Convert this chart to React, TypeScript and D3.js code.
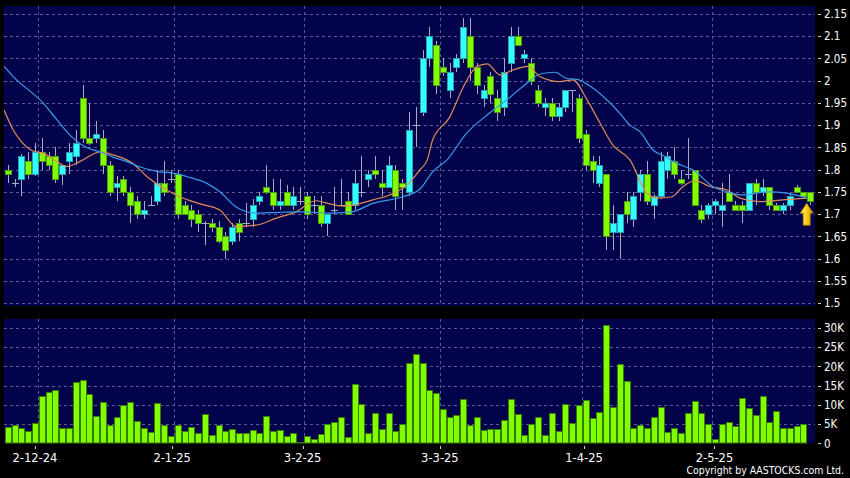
import React from 'react';
import * as d3 from 'd3';

const W = 850;
const H = 478;

// ---------- data ----------
const opens = [
  1.80, 1.77, 1.78, 1.82, 1.79, 1.84, 1.83, 1.83, 1.79, 1.82,
  1.83, 1.96, 1.87, 1.87, 1.87, 1.81, 1.76, 1.78, 1.75, 1.73,
  1.70, 1.72, 1.73, 1.77, 1.78, 1.79, 1.72, 1.71, 1.70, 1.68,
  1.68, 1.67, 1.65, 1.64, 1.68, 1.68, 1.69, 1.73, 1.76, 1.75,
  1.72, 1.75, 1.72, 1.73, 1.74, 1.72, 1.72, 1.68, 1.71, 1.72,
  1.73, 1.72, 1.75, 1.78, 1.80, 1.77, 1.76, 1.80, 1.77, 1.75,
  1.90, 1.93, 2.05, 2.08, 2.03, 1.98, 2.03, 2.05, 2.10, 2.03,
  1.96, 2.01, 1.96, 1.94, 2.04, 2.10, 2.05, 2.04, 1.98, 1.94,
  1.95, 1.92, 1.94, 1.98, 1.96, 1.88, 1.82, 1.77, 1.79, 1.66,
  1.66, 1.73, 1.69, 1.75, 1.79, 1.72, 1.74, 1.80, 1.82, 1.78,
  1.79, 1.80, 1.71, 1.70, 1.72, 1.71, 1.75, 1.72, 1.72, 1.71,
  1.77, 1.75, 1.76, 1.72, 1.71, 1.72, 1.76, 1.75, 1.75,
];
const closes = [
  1.79, 1.77, 1.83, 1.79, 1.84, 1.82, 1.81, 1.78, 1.81, 1.84,
  1.86, 1.87, 1.86, 1.88, 1.81, 1.75, 1.77, 1.75, 1.72, 1.70,
  1.71, 1.72, 1.77, 1.75, 1.78, 1.70, 1.70, 1.69, 1.68, 1.68,
  1.67, 1.64, 1.62, 1.67, 1.66, 1.68, 1.72, 1.74, 1.75, 1.72,
  1.73, 1.72, 1.74, 1.73, 1.70, 1.72, 1.68, 1.70, 1.71, 1.72,
  1.70, 1.77, 1.75, 1.79, 1.79, 1.76, 1.81, 1.74, 1.76, 1.89,
  1.90, 2.05, 2.10, 1.99, 2.02, 2.02, 2.05, 2.12, 2.03, 1.99,
  1.98, 1.97, 1.93, 2.02, 2.10, 2.08, 2.06, 2.00, 1.95, 1.95,
  1.92, 1.94, 1.98, 1.98, 1.87, 1.81, 1.80, 1.81, 1.65, 1.68,
  1.70, 1.70, 1.74, 1.79, 1.73, 1.74, 1.82, 1.83, 1.79, 1.77,
  1.79, 1.72, 1.69, 1.72, 1.73, 1.72, 1.73, 1.71, 1.71, 1.77,
  1.75, 1.76, 1.72, 1.71, 1.72, 1.74, 1.75, 1.74, 1.73,
];
const highs = [
  1.81, 1.78, 1.835, 1.84, 1.86, 1.87, 1.84, 1.85, 1.81, 1.86,
  1.89, 1.99, 1.95, 1.91, 1.89, 1.82, 1.785, 1.785, 1.76, 1.74,
  1.73, 1.74, 1.80, 1.82, 1.80, 1.80, 1.73, 1.72, 1.71, 1.685,
  1.69, 1.685, 1.66, 1.68, 1.69, 1.725, 1.735, 1.75, 1.81, 1.78,
  1.78, 1.765, 1.76, 1.76, 1.75, 1.74, 1.74, 1.70, 1.76, 1.78,
  1.75, 1.80, 1.83, 1.80, 1.83, 1.80, 1.83, 1.81, 1.78, 1.93,
  1.94, 2.07, 2.12, 2.09, 2.05, 2.04, 2.06, 2.14, 2.14, 2.04,
  1.99, 2.02, 1.98, 2.05, 2.12, 2.12, 2.07, 2.05, 1.99, 1.96,
  1.96, 1.95, 1.98, 1.98, 1.97, 1.89, 1.83, 1.83, 1.79, 1.72,
  1.70, 1.75, 1.75, 1.80, 1.82, 1.745, 1.84, 1.84, 1.85, 1.80,
  1.87, 1.80, 1.72, 1.725, 1.735, 1.77, 1.79, 1.73, 1.73, 1.77,
  1.78, 1.78, 1.76, 1.725, 1.725, 1.745, 1.765, 1.75, 1.75,
];
const lows = [
  1.77, 1.76, 1.74, 1.78, 1.785, 1.80, 1.80, 1.77, 1.765, 1.79,
  1.81, 1.86, 1.855, 1.86, 1.79, 1.74, 1.73, 1.74, 1.68, 1.69,
  1.69, 1.72, 1.72, 1.74, 1.77, 1.69, 1.70, 1.67, 1.66, 1.63,
  1.66, 1.635, 1.60, 1.63, 1.64, 1.67, 1.67, 1.72, 1.745, 1.71,
  1.71, 1.72, 1.71, 1.72, 1.69, 1.70, 1.67, 1.65, 1.70, 1.72,
  1.70, 1.71, 1.739, 1.76, 1.78, 1.74, 1.76, 1.71, 1.71, 1.74,
  1.85, 1.92, 2.03, 1.97, 2.01, 1.96, 2.02, 2.04, 2.00, 1.97,
  1.94, 1.95, 1.91, 1.92, 2.02, 2.08, 2.04, 1.99, 1.94, 1.92,
  1.91, 1.91, 1.93, 1.93, 1.86, 1.80, 1.77, 1.76, 1.62, 1.62,
  1.60, 1.68, 1.67, 1.73, 1.72, 1.69, 1.735, 1.78, 1.78, 1.765,
  1.78, 1.72, 1.68, 1.69, 1.70, 1.67, 1.73, 1.71, 1.68, 1.71,
  1.72, 1.74, 1.71, 1.71, 1.70, 1.71, 1.75, 1.74, 1.72,
];
// volume in thousands of shares (latest session has no bar)
const volumes = [
  4.2, 4.8, 4.1, 3.3, 5.2, 12.4, 13.3, 13.9, 4.1, 3.9,
  16.0, 16.6, 12.7, 7.1, 10.7, 4.8, 6.8, 10.0, 10.7, 5.8,
  4.1, 2.9, 10.5, 4.8, 2.0, 4.8, 3.2, 4.2, 2.6, 7.6,
  2.1, 4.8, 3.1, 3.7, 2.6, 2.6, 3.5, 2.6, 7.1, 3.1,
  3.5, 1.9, 2.6, 0.3, 1.9, 1.2, 2.4, 4.9, 5.5, 6.9,
  1.6, 15.4, 10.3, 2.8, 7.9, 3.8, 8.0, 3.3, 4.9, 20.8,
  23.2, 20.8, 13.8, 13.1, 9.0, 6.8, 7.3, 11.4, 4.7, 6.8,
  3.5, 3.7, 3.7, 6.1, 11.4, 7.6, 2.2, 4.9, 6.8, 2.2,
  7.9, 3.2, 10.1, 5.2, 9.9, 11.2, 6.7, 8.1, 30.7, 9.5,
  20.6, 16.3, 4.1, 4.8, 3.9, 6.8, 9.4, 2.9, 3.9, 2.7,
  8.0, 10.9, 7.9, 4.9, 1.0, 5.1, 5.5, 4.5, 11.8, 9.1,
  7.3, 12.4, 5.5, 8.3, 4.1, 4.1, 4.5, 5.0,
];

// short moving average (orange), read at sample positions
const maShortIdx = [-0.54, 0.82, 1.8, 3.7, 5.2, 7.25, 8.7, 10.6, 13.6, 15.5, 18.4, 20.5, 23.4, 25.3, 28.3, 31.2, 33.6, 36.5, 39.5, 42.4, 45.3, 46.8, 49.3, 50.8, 53.7, 56.2, 58.7, 60.6, 61.7, 62.5, 65.0, 67.0, 69.0, 70.5, 72.4, 74.3, 76.5, 78.3, 81.2, 83.1, 85.2, 87.1, 89.0, 91.5, 94.0, 95.6, 97.7, 99.3, 101.1, 103.3, 105.8, 107.7, 110.6, 114.0, 117.5];
const maShortVal = [1.934, 1.889, 1.867, 1.842, 1.837, 1.818, 1.807, 1.818, 1.840, 1.833, 1.814, 1.784, 1.754, 1.739, 1.723, 1.709, 1.672, 1.675, 1.691, 1.705, 1.730, 1.725, 1.718, 1.720, 1.732, 1.743, 1.765, 1.799, 1.822, 1.867, 1.918, 1.986, 2.032, 2.038, 2.013, 2.024, 2.032, 2.009, 1.998, 2.002, 1.957, 1.905, 1.855, 1.822, 1.747, 1.736, 1.739, 1.762, 1.775, 1.762, 1.754, 1.736, 1.728, 1.732, 1.736];
// long moving average (blue)
const maLongIdx = [-0.54, 0.82, 5.19, 7.25, 9.46, 11.66, 13.57, 15.49, 17.54, 19.46, 22.4, 24.3, 26.4, 29.3, 31.2, 33.6, 34.6, 36.5, 40.0, 43.4, 47.3, 50.6, 53.7, 58.1, 60.6, 62.5, 64.6, 67.5, 70.5, 73.4, 76.4, 78.3, 80.5, 82.2, 83.7, 86.1, 88.1, 90.0, 91.5, 93.0, 94.9, 96.7, 98.4, 100.8, 103.7, 105.8, 108.1, 111.7, 114.6, 117.5];
const maLongVal = [2.032, 2.009, 1.950, 1.912, 1.873, 1.849, 1.840, 1.828, 1.818, 1.806, 1.795, 1.792, 1.784, 1.769, 1.750, 1.716, 1.708, 1.702, 1.704, 1.705, 1.702, 1.705, 1.724, 1.739, 1.756, 1.795, 1.822, 1.882, 1.923, 1.957, 1.995, 2.015, 2.019, 2.005, 2.003, 1.983, 1.957, 1.927, 1.900, 1.885, 1.844, 1.829, 1.814, 1.799, 1.762, 1.750, 1.743, 1.750, 1.747, 1.736];

const dateTickIdx = [4, 24, 43, 63, 84, 103];
const dateTickLabels = ['2-12-24', '2-1-25', '3-2-25', '3-3-25', '1-4-25', '2-5-25'];
const priceTicks = [2.15, 2.1, 2.05, 2.0, 1.95, 1.9, 1.85, 1.8, 1.75, 1.7, 1.65, 1.6, 1.55, 1.5];
const priceTickLabels = ['2.15', '2.1', '2.05', '2', '1.95', '1.9', '1.85', '1.8', '1.75', '1.7', '1.65', '1.6', '1.55', '1.5'];
const volTicks = [0, 5, 10, 15, 20, 25, 30];
const volTickLabels = ['0', '5K', '10K', '15K', '20K', '25K', '30K'];

// ---------- styling ----------
const NAVY = '#03034c';
const GRID = '#5a5a96';
const WICK = '#a9a9c4';
const UP_FILL = '#33ffff';
const UP_STROKE = '#2a9fb0';
const DN_FILL = '#80ff00';
const DN_STROKE = '#4f9a08';
const VOL_FILL = '#80ff00';
const VOL_STROKE = '#3a7a00';
const MA_SHORT = '#e08a58';
const MA_LONG = '#3a9ae8';
const AXIS_FONT = "'DejaVu Sans Condensed', 'DejaVu Sans', sans-serif";
const DATE_FONT = "'DejaVu Sans', sans-serif";

export default function App() {
  const n = opens.length;
  const x = d3.scaleLinear().domain([0, 118]).range([7.7, 810.1]);
  const xLab = d3.scaleLinear().domain([0, 118]).range([4, 814]);
  const y = d3.scaleLinear().domain([1.5, 2.15]).range([303, 14]);
  const yv = d3.scaleLinear().domain([0, 30]).range([443.3, 328]);

  const main = { x0: 4, x1: 815, y0: 6, y1: 306 };
  const vol = { x0: 4, x1: 815, y0: 319, y1: 443.5 };

  const lineGen = d3
    .line<[number, number]>()
    .x((d) => x(d[0]))
    .y((d) => y(d[1]))
    .curve(d3.curveMonotoneX);

  const shortPts: [number, number][] = maShortIdx.map((v, i) => [v, maShortVal[i]]);
  const longPts: [number, number][] = maLongIdx.map((v, i) => [v, maLongVal[i]]);

  const candles = d3.range(n).map((i) => {
    const cx = Math.round(x(i));
    const o = opens[i];
    const c = closes[i];
    const yh = Math.round(y(highs[i]));
    const yl = Math.round(y(lows[i]));
    const wick = (
      <line key={'w' + i} x1={cx + 0.5} x2={cx + 0.5} y1={yh} y2={yl} stroke={WICK} strokeWidth={1} />
    );
    if (o === c) {
      const yo = Math.round(y(o)) + 0.5;
      return (
        <g key={i}>
          {wick}
          <line x1={cx - 3} x2={cx + 4} y1={yo} y2={yo} stroke={WICK} strokeWidth={1} />
        </g>
      );
    }
    const up = c > o;
    const top = Math.round(y(Math.max(o, c)));
    const bot = Math.round(y(Math.min(o, c)));
    return (
      <g key={i}>
        {wick}
        <rect
          x={cx - 2.5}
          y={top + 0.5}
          width={6}
          height={Math.max(1, bot - top)}
          fill={up ? UP_FILL : DN_FILL}
          stroke={up ? UP_STROKE : DN_STROKE}
          strokeWidth={1}
        />
      </g>
    );
  });

  const volBars = volumes.map((v, i) => {
    const cx = Math.round(x(i));
    const top = Math.round(yv(v));
    const base = Math.round(yv(0));
    return (
      <rect
        key={'v' + i}
        x={cx - 2.5}
        y={top + 0.5}
        width={6}
        height={Math.max(0.5, base - top - 0.5)}
        fill={VOL_FILL}
        stroke={VOL_STROKE}
        strokeWidth={1}
      />
    );
  });

  // arrow marker under latest candle
  const ax = x(n - 1.5);
  const ayTop = y(lows[n - 1]) - 2;
  const arrowPath = d3.path();
  arrowPath.moveTo(ax, ayTop);
  arrowPath.lineTo(ax + 6.5, ayTop + 10);
  arrowPath.lineTo(ax + 3.5, ayTop + 10);
  arrowPath.lineTo(ax + 3.5, ayTop + 22);
  arrowPath.lineTo(ax - 3.5, ayTop + 22);
  arrowPath.lineTo(ax - 3.5, ayTop + 10);
  arrowPath.lineTo(ax - 6.5, ayTop + 10);
  arrowPath.closePath();

  return (
    <svg
      width={W}
      height={H}
      viewBox={`0 0 ${W} ${H}`}
      style={{ position: 'fixed', left: 0, top: 0, background: '#000', display: 'block' }}
    >
      <defs>
        <linearGradient id="arrowGrad" x1="0" y1="0" x2="1" y2="0">
          <stop offset="0" stopColor="#fff2a0" />
          <stop offset="0.45" stopColor="#ffd21a" />
          <stop offset="1" stopColor="#d99000" />
        </linearGradient>
        <clipPath id="mainClip">
          <rect x={main.x0} y={main.y0} width={main.x1 - main.x0} height={main.y1 - main.y0} />
        </clipPath>
      </defs>
      <rect x={0} y={0} width={W} height={H} fill="#000" />

      {/* price panel */}
      <rect x={main.x0} y={main.y0} width={main.x1 - main.x0} height={main.y1 - main.y0} fill={NAVY} />
      {priceTicks.map((p, i) => (
        <line
          key={'pg' + i}
          x1={main.x0}
          x2={main.x1}
          y1={Math.round(y(p)) + 0.5}
          y2={Math.round(y(p)) + 0.5}
          stroke={GRID}
          strokeDasharray="3,3"
        />
      ))}
      {dateTickIdx.map((k, i) => (
        <line
          key={'pv' + i}
          x1={Math.round(x(k + 0.5)) + 0.5}
          x2={Math.round(x(k + 0.5)) + 0.5}
          y1={main.y0}
          y2={main.y1}
          stroke={GRID}
          strokeDasharray="3,3"
        />
      ))}
      {candles}
      <g clipPath="url(#mainClip)">
        <path d={lineGen(shortPts) || ''} fill="none" stroke={MA_SHORT} strokeWidth={1.2} />
        <path d={lineGen(longPts) || ''} fill="none" stroke={MA_LONG} strokeWidth={1.2} />
      </g>
      <path d={arrowPath.toString()} fill="url(#arrowGrad)" stroke="#b07a00" strokeWidth={0.8} />

      {/* volume panel */}
      <rect x={vol.x0} y={vol.y0} width={vol.x1 - vol.x0} height={vol.y1 - vol.y0} fill={NAVY} />
      {volTicks.slice(1).map((v, i) => (
        <line
          key={'vg' + i}
          x1={vol.x0}
          x2={vol.x1}
          y1={Math.round(yv(v)) + 0.5}
          y2={Math.round(yv(v)) + 0.5}
          stroke={GRID}
          strokeDasharray="3,3"
        />
      ))}
      {dateTickIdx.map((k, i) => (
        <line
          key={'vv' + i}
          x1={Math.round(x(k + 0.5)) + 0.5}
          x2={Math.round(x(k + 0.5)) + 0.5}
          y1={vol.y0}
          y2={vol.y1}
          stroke={GRID}
          strokeDasharray="3,3"
        />
      ))}
      {volBars}

      {/* right axis: price */}
      {priceTicks.map((p, i) => (
        <g key={'pt' + i}>
          <line x1={818} x2={821} y1={Math.round(y(p)) + 0.5} y2={Math.round(y(p)) + 0.5} stroke="#d0d0d0" />
          <text
            x={824}
            y={y(p) + 4.2}
            fill="#ffffff"
            fontSize={11.5}
            fontFamily={AXIS_FONT}
            style={{ fontStretch: 'condensed' }}
          >
            {priceTickLabels[i]}
          </text>
        </g>
      ))}
      {/* right axis: volume */}
      {volTicks.map((v, i) => (
        <g key={'vt' + i}>
          <line x1={818} x2={821} y1={Math.round(yv(v)) + 0.5} y2={Math.round(yv(v)) + 0.5} stroke="#d0d0d0" />
          <text
            x={824}
            y={yv(v) + 4.2}
            fill="#ffffff"
            fontSize={11.5}
            fontFamily={AXIS_FONT}
            style={{ fontStretch: 'condensed' }}
          >
            {volTickLabels[i]}
          </text>
        </g>
      ))}

      {/* date axis */}
      {dateTickIdx.map((k, i) => {
        const lx = xLab(k + 0.5);
        return (
          <g key={'dt' + i}>
            <line x1={Math.round(lx) + 0.5} x2={Math.round(lx) + 0.5} y1={446} y2={449} stroke="#d0d0d0" />
            <text x={lx} y={461.7} fill="#ffffff" fontSize={11.5} fontFamily={DATE_FONT} textAnchor="middle">
              {dateTickLabels[i]}
            </text>
          </g>
        );
      })}

      <text
        x={844}
        y={474}
        fill="#ffffff"
        fontSize={10.4}
        fontFamily={AXIS_FONT}
        textAnchor="end"
        style={{ fontStretch: 'condensed' }}
      >
        Copyright by AASTOCKS.com Ltd.
      </text>
    </svg>
  );
}
